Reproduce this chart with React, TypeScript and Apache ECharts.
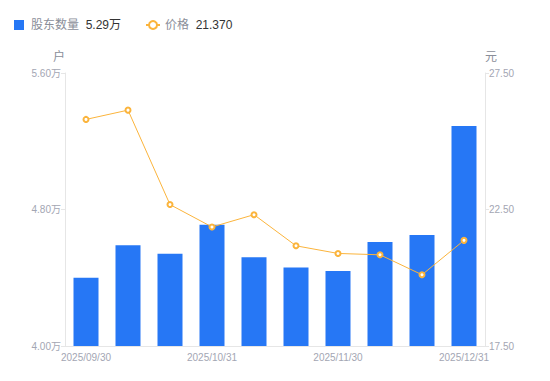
import React, { useEffect, useRef } from "react";
import * as echarts from "echarts";

const categories = [
  "2025/09/30", "2025/10/10", "2025/10/20", "2025/10/31", "2025/11/10",
  "2025/11/20", "2025/11/30", "2025/12/10", "2025/12/20", "2025/12/31",
];
// 股东数量 (万户)
const holders = [4.40, 4.59, 4.54, 4.71, 4.52, 4.46, 4.44, 4.61, 4.65, 5.29];
// 价格 (元)
const prices = [25.80, 26.14, 22.68, 21.86, 22.31, 21.17, 20.89, 20.84, 20.11, 21.37];

const leftTicks = { min: 4.0, max: 5.6, interval: 0.8 };
const rightTicks = { min: 17.5, max: 27.5, interval: 5 };

const FONT = "'Liberation Sans', 'Noto Sans CJK SC', sans-serif";

export default function App() {
  const ref = useRef<HTMLDivElement>(null);
  useEffect(() => {
    if (!ref.current) return;
    const chart = echarts.init(ref.current, null, { renderer: "svg" });
    const lastHolders = holders[holders.length - 1];
    const lastPrice = prices[prices.length - 1];
    chart.setOption({
      animation: false,
      textStyle: { fontFamily: FONT },
      legend: {
        left: 14,
        top: 19,
        padding: 0,
        itemWidth: 14,
        itemHeight: 10,
        itemGap: 24,
        symbolKeepAspect: true,
        data: [
          { name: "股东数量", icon: "path://M0,0h10v10h-10z" },
          { name: "价格" },
        ],
        formatter: (name: string) =>
          name === "股东数量"
            ? `{n|${name}}  {v|${lastHolders.toFixed(2)}万}`
            : `{n|${name}}  {v|${lastPrice.toFixed(3)}}`,
        textStyle: {
          fontFamily: FONT,
          rich: {
            n: { color: "#8a8e99", fontSize: 12, fontFamily: FONT },
            v: { color: "#333333", fontSize: 12, fontFamily: FONT },
          },
        },
      },
      grid: { left: 65, right: 65, top: 73, bottom: 35 },
      xAxis: {
        type: "category",
        data: categories,
        boundaryGap: true,
        axisLine: { lineStyle: { color: "#e6e6e6" } },
        axisTick: { show: false },
        axisLabel: {
          interval: 2,
          color: "#a3a6b3",
          fontSize: 10,
          fontFamily: FONT,
          margin: 6,
        },
      },
      yAxis: [
        {
          type: "value",
          name: "户",
          nameLocation: "end",
          nameGap: 10,
          nameTextStyle: { color: "#8a8e99", fontSize: 12, align: "right", fontFamily: FONT },
          min: leftTicks.min,
          max: leftTicks.max,
          interval: leftTicks.interval,
          axisLine: { show: true, lineStyle: { color: "#e6e6e6" } },
          axisTick: { show: true, length: 4, lineStyle: { color: "#e6e6e6" } },
          splitLine: { show: false },
          axisLabel: {
            color: "#a3a6b3",
            fontSize: 10,
            fontFamily: FONT,
            margin: 4,
            formatter: (v: number) => v.toFixed(2) + "万",
          },
        },
        {
          type: "value",
          name: "元",
          nameLocation: "end",
          nameGap: 10,
          nameTextStyle: { color: "#8a8e99", fontSize: 12, align: "left", fontFamily: FONT },
          min: rightTicks.min,
          max: rightTicks.max,
          interval: rightTicks.interval,
          axisLine: { show: true, lineStyle: { color: "#e6e6e6" } },
          axisTick: { show: true, length: 4, lineStyle: { color: "#e6e6e6" } },
          splitLine: { show: false },
          axisLabel: {
            color: "#a3a6b3",
            fontSize: 10,
            fontFamily: FONT,
            margin: 4,
            formatter: (v: number) => v.toFixed(2),
          },
        },
      ],
      series: [
        {
          name: "股东数量",
          type: "bar",
          yAxisIndex: 0,
          data: holders,
          barWidth: 25,
          itemStyle: { color: "#2677f5" },
        },
        {
          name: "价格",
          type: "line",
          yAxisIndex: 1,
          data: prices,
          symbol: "emptyCircle",
          symbolSize: 5,
          lineStyle: { color: "#fbb43c", width: 1 },
          itemStyle: { color: "#fbb43c", borderWidth: 1.5 },
        },
      ],
    });
    return () => chart.dispose();
  }, []);
  return <div ref={ref} style={{ width: 550, height: 381, position: "absolute", left: 0, top: 0 }} />;
}
